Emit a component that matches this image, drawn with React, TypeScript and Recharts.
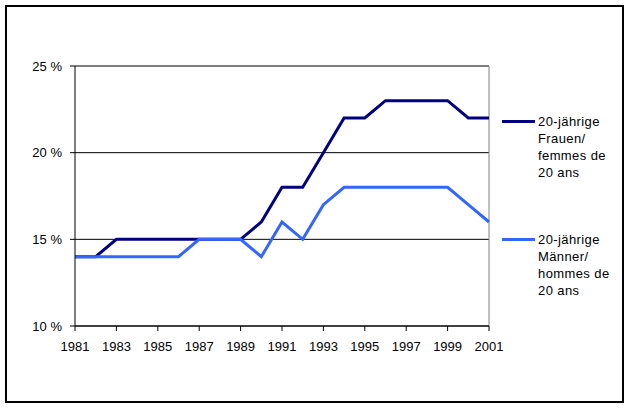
import { LineChart, Line, XAxis, YAxis, CartesianGrid, ReferenceLine, Legend } from 'recharts';

const years = [1981, 1982, 1983, 1984, 1985, 1986, 1987, 1988, 1989, 1990, 1991, 1992, 1993, 1994, 1995, 1996, 1997, 1998, 1999, 2000, 2001];
const women = [14, 14, 15, 15, 15, 15, 15, 15, 15, 16, 18, 18, 20, 22, 22, 23, 23, 23, 23, 22, 22];
const men = [14, 14, 14, 14, 14, 14, 15, 15, 15, 14, 16, 15, 17, 18, 18, 18, 18, 18, 18, 17, 16];
const xTicks = [1981, 1983, 1985, 1987, 1989, 1991, 1993, 1995, 1997, 1999, 2001];
const yTicks = [10, 15, 20, 25];
const womenLabel = '20-jährige\nFrauen/\nfemmes de\n20 ans';
const menLabel = '20-jährige\nMänner/\nhommes de\n20 ans';

const data = years.map((year, i) => ({ year, women: women[i], men: men[i] }));

const font = 'Arial, "Liberation Sans", sans-serif';

const LegendContent = ({ payload }: any) => (
  <div style={{ fontFamily: font, fontSize: 13, letterSpacing: 0.4, lineHeight: '17px', color: '#000', textAlign: 'left' }}>
    {(payload || []).map((entry: any, index: number) => (
      <div key={index} style={{ display: 'flex', alignItems: 'flex-start', marginBottom: index === 0 ? 50 : 0 }}>
        <svg width={36} height={17} style={{ flexShrink: 0 }}>
          <line x1={0} y1={8.5} x2={33} y2={8.5} stroke={entry.color} strokeWidth={3} />
        </svg>
        <span style={{ whiteSpace: 'pre-line' }}>{entry.value}</span>
      </div>
    ))}
  </div>
);

const App = () => {
  return (
    <div style={{ position: 'absolute', left: 0, top: 0, width: 631, height: 410, background: '#fff' }}>
      <div
        style={{
          position: 'absolute',
          left: 5,
          top: 5,
          width: 615,
          height: 394,
          border: '2px solid #000',
        }}
      />
      <LineChart
        width={631}
        height={410}
        data={data}
        margin={{ top: 66, right: 142, left: 0, bottom: 0 }}
        style={{ position: 'absolute', left: 0, top: 0 }}
      >
        <CartesianGrid vertical={false} horizontal stroke="#000" strokeWidth={1} />
        <XAxis
          dataKey="year"
          type="number"
          domain={[1981, 2001]}
          ticks={xTicks}
          height={84}
          stroke="#000"
          tickSize={5}
          tickMargin={11}
          tick={{ fill: '#000', fontSize: 13, fontFamily: font }}
        />
        <YAxis
          type="number"
          domain={[10, 25]}
          ticks={yTicks}
          width={75}
          stroke="#000"
          tickSize={5}
          tickMargin={8}
          tickFormatter={(v: number) => `${v} %`}
          tick={{ fill: '#000', fontSize: 13, fontFamily: font }}
        />
        <ReferenceLine y={25} stroke="#808080" strokeWidth={1} />
        <ReferenceLine x={2001} stroke="#808080" strokeWidth={1} />
        <Line
          dataKey="women"
          name={womenLabel}
          type="linear"
          stroke="#000080"
          strokeWidth={3}
          dot={false}
          isAnimationActive={false}
        />
        <Line
          dataKey="men"
          name={menLabel}
          type="linear"
          stroke="#3366FF"
          strokeWidth={3}
          dot={false}
          isAnimationActive={false}
        />
        <Legend
          layout="horizontal"
          align="center"
          verticalAlign="middle"
          content={<LegendContent />}
          wrapperStyle={{ position: 'absolute', left: 502, top: 113, width: 125 }}
        />
      </LineChart>
    </div>
  );
};

export default App;
